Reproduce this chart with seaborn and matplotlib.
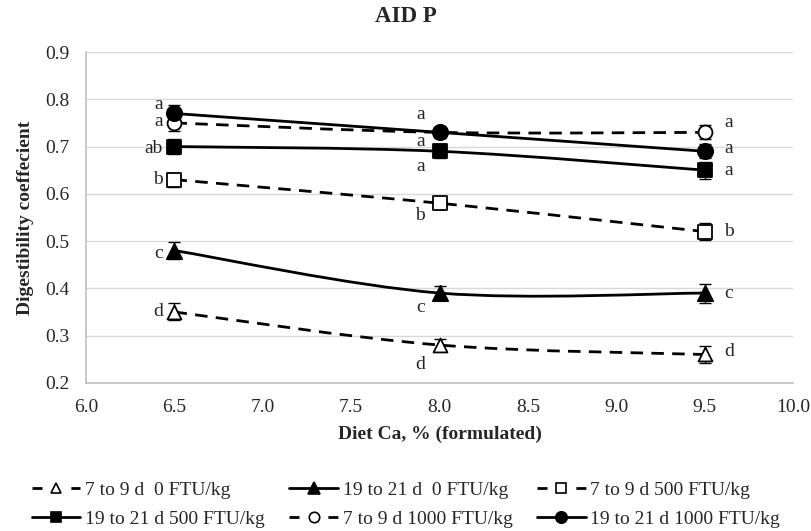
import numpy as np
import matplotlib
matplotlib.use("Agg")
import matplotlib.pyplot as plt
from matplotlib.path import Path
from matplotlib.patches import PathPatch
from matplotlib.lines import Line2D
import seaborn as sns
import pandas as pd

# ---------------- data ----------------
diet_ca = [6.5, 8.0, 9.5]
series_names = ["7 to 9 d  0 FTU/kg", "19 to 21 d  0 FTU/kg", "7 to 9 d 500 FTU/kg",
                "19 to 21 d 500 FTU/kg", "7 to 9 d 1000 FTU/kg", "19 to 21 d 1000 FTU/kg"]
d7_0 = [0.35, 0.28, 0.26]
d19_0 = [0.48, 0.39, 0.39]
d7_500 = [0.63, 0.58, 0.52]
d19_500 = [0.70, 0.69, 0.65]
d7_1000 = [0.75, 0.73, 0.73]
d19_1000 = [0.77, 0.73, 0.69]
err_d7_0 = [0.018, 0.012, 0.018]
err_d19_0 = [0.018, 0.015, 0.020]
err_d7_500 = [0.015, 0.012, 0.018]
err_d19_500 = [0.015, 0.015, 0.018]
err_d7_1000 = [0.018, 0.010, 0.015]
err_d19_1000 = [0.018, 0.012, 0.015]
letters_d7_0 = ["d", "d", "d"]
letters_d19_0 = ["c", "c", "c"]
letters_d7_500 = ["b", "b", "b"]
letters_d19_500 = ["ab", "a", "a"]
letters_d7_1000 = ["a", "a", "a"]
letters_d19_1000 = ["a", "a", "a"]
title = "AID P"
xlabel = "Diet Ca, % (formulated)"
ylabel = "Digestibility coeffecient"

values = [d7_0, d19_0, d7_500, d19_500, d7_1000, d19_1000]
errors = [err_d7_0, err_d19_0, err_d7_500, err_d19_500, err_d7_1000, err_d19_1000]
letters = [letters_d7_0, letters_d19_0, letters_d7_500, letters_d19_500,
           letters_d7_1000, letters_d19_1000]

# ---------------- style ----------------
markers = ["^", "^", "s", "s", "o", "o"]
filled = [False, True, False, True, False, True]
dashed = [True, False, True, False, True, False]
msizes = [10, 11, 10, 10.5, 10, 11]
# letter label vertical offsets (per series, per point)
label_dy = [[0, -0.042, 0.006], [-0.007, -0.03, 0.0], [0, -0.025, 0.0],
            [-0.005, -0.033, 0.0], [0.002, -0.02, 0.02], [0.018, 0.037, 0.005]]

sns.set_theme(style="white")
plt.rcParams["font.family"] = ["Liberation Serif", "DejaVu Serif"]
plt.rcParams["mathtext.fontset"] = "stix"

fig = plt.figure(figsize=(8.12, 5.31), dpi=100)
ax = fig.add_axes([0.106, 0.279, 0.871, 0.623])

LW = 2.0
DASH = (0, (4.5, 3.0))
LEG_DASH = (0, (3.6, 10.4))


def smooth_path(xs, ys):
    pts = [np.array([x, y], dtype=float) for x, y in zip(xs, ys)]
    verts = [pts[0]]
    codes = [Path.MOVETO]
    n = len(pts)
    for i in range(n - 1):
        p0 = pts[i - 1] if i > 0 else pts[i]
        p1 = pts[i]
        p2 = pts[i + 1]
        p3 = pts[i + 2] if i + 2 < n else pts[i + 1]
        c1 = p1 + (p2 - p0) / 6.0
        c2 = p2 - (p3 - p1) / 6.0
        verts += [c1, c2, p2]
        codes += [Path.CURVE4] * 3
    return Path(np.array(verts), codes)


rows = []
for name, vals in zip(series_names, values):
    for x, v in zip(diet_ca, vals):
        rows.append({"ca": x, "val": v, "series": name})
df = pd.DataFrame(rows)

handles = []
for i, name in enumerate(series_names):
    vals = values[i]
    ls = DASH if dashed[i] else "-"
    patch = PathPatch(smooth_path(diet_ca, vals), facecolor="none", edgecolor="black",
                      lw=LW, linestyle=ls, zorder=2, capstyle="butt")
    ax.add_patch(patch)
    ax.errorbar(diet_ca, vals, yerr=errors[i], fmt="none", ecolor="black",
                elinewidth=1.0, capsize=4.5, capthick=1.0, zorder=3)
    sub = df[df["series"] == name]
    sns.scatterplot(data=sub, x="ca", y="val", marker=markers[i], s=msizes[i] ** 2,
                    color="black" if filled[i] else "white", edgecolor="black",
                    linewidth=1.3, ax=ax, zorder=4, legend=False)
    handles.append(Line2D([], [], color="black", lw=LW,
                          linestyle=LEG_DASH if dashed[i] else "-",
                          marker=markers[i], markersize=msizes[i] * 0.75,
                          markerfacecolor="black" if filled[i] else "white",
                          markeredgecolor="black", markeredgewidth=1.2))

# letter annotations
for i in range(len(series_names)):
    for j, x in enumerate(diet_ca):
        y = values[i][j] + label_dy[i][j]
        if j == 0:
            ax.text(x - 0.065, y, letters[i][j], ha="right", va="center", fontsize=14)
        elif j == 1:
            ax.text(x - 0.11, y, letters[i][j], ha="center", va="center", fontsize=14)
        else:
            ax.text(x + 0.11, y, letters[i][j], ha="left", va="center", fontsize=14)

ax.set_xlim(6.0, 10.0)
ax.set_ylim(0.2, 0.9)
ax.set_xticks(np.arange(6.0, 10.01, 0.5))
ax.set_yticks(np.arange(0.2, 0.901, 0.1))
ax.set_xticklabels([f"{t:.1f}" for t in np.arange(6.0, 10.01, 0.5)], fontsize=14)
ax.set_yticklabels([f"{t:.1f}" for t in np.arange(0.2, 0.901, 0.1)], fontsize=14)
ax.yaxis.grid(True, color="#d9d9d9", lw=1.0)
ax.xaxis.grid(False)
ax.set_axisbelow(True)
for s in ["top", "right"]:
    ax.spines[s].set_visible(False)
for s in ["left", "bottom"]:
    ax.spines[s].set_color("#bfbfbf")
    ax.spines[s].set_linewidth(1.2)
ax.tick_params(axis="x", direction="in", length=4, color="#bfbfbf", pad=11.5)
ax.tick_params(axis="y", length=0, pad=12)

fig.text(0.5, 1 - 16 / 531, title, ha="center", va="center", fontsize=16.5,
         fontweight="bold")
ax.set_xlabel(xlabel, fontsize=14, fontweight="bold", labelpad=7)
ax.set_ylabel(ylabel, fontsize=14, fontweight="bold", labelpad=8)

order = [0, 3, 1, 4, 2, 5]
fig.legend([handles[k] for k in order], [series_names[k] for k in order],
           loc="upper center", bbox_to_anchor=(0.5, 0.109), ncol=3, frameon=False,
           fontsize=14, handlelength=2.5, handletextpad=0.25, columnspacing=1.25,
           labelspacing=0.6, borderaxespad=0)

fig.savefig("out.png", dpi=100)
